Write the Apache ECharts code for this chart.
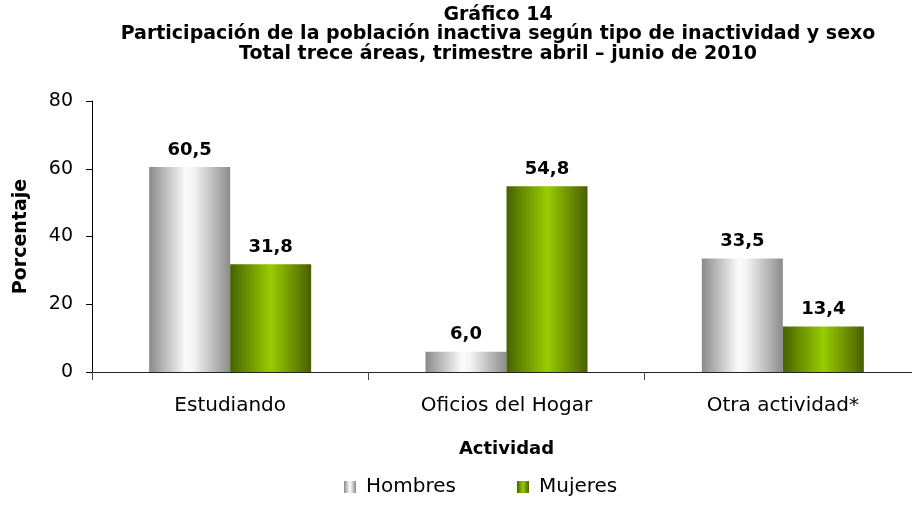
<!DOCTYPE html>
<html><head><meta charset="utf-8">
<script src="https://cdn.jsdelivr.net/npm/echarts@6/dist/echarts.min.js"></script>
<style>html,body{margin:0;padding:0;background:#fff}#c{width:912px;height:505px}</style>
</head><body><div id="c"></div>
<script>
var categories = ['Estudiando', 'Oficios del Hogar', 'Otra actividad*'];
var hombres = [60.5, 6.0, 33.5];
var mujeres = [31.8, 54.8, 13.4];
var seriesNames = ['Hombres', 'Mujeres'];
var yTicks = [0, 20, 40, 60, 80];

var FONT = '"DejaVu Sans", "Liberation Sans", Arial, sans-serif';
function grad(stops){
  return new echarts.graphic.LinearGradient(0,0,1,0, stops.map(function(s){return {offset:s[0], color:s[1]};}));
}
var grayGrad = grad([[0,'#8a8a8a'],[0.45,'#fbfbfb'],[0.55,'#f4f4f4'],[1,'#8c8c8c']]);
var greenGrad = grad([[0,'#476200'],[0.5,'#99cc00'],[1,'#4a5f00']]);
function fmt(p){ return p.value.toFixed(1).replace('.', ','); }

var chart = echarts.init(document.getElementById('c'));
chart.setOption({
  animation: false,
  textStyle: {fontFamily: FONT},
  title: {
    text: 'Gráfico 14\nParticipación de la población inactiva según tipo de inactividad y sexo\nTotal trece áreas, trimestre abril – junio de 2010',
    left: 493, top: 0, textAlign: 'center',
    textStyle: {fontFamily: FONT, fontSize: 19, fontWeight: 'bold', color: '#000', lineHeight: 19.5}
  },
  legend: {
    data: seriesNames, bottom: 3, left: 339, itemWidth: 12, itemHeight: 12, itemGap: 61,
    icon: 'rect',
    textStyle: {fontFamily: FONT, fontSize: 20, color: '#000', padding: [0,0,0,5]}
  },
  grid: {left: 92, width: 829, top: 101, height: 271, containLabel: false, outerBoundsMode: 'none'},
  xAxis: {
    type: 'category', data: categories,
    name: 'Actividad', nameLocation: 'middle', nameGap: 68,
    nameTextStyle: {fontFamily: FONT, fontSize: 18, fontWeight: 'bold', color: '#000'},
    axisLine: {lineStyle: {color: '#222', width: 1}},
    axisTick: {show: true, length: 8, lineStyle: {color: '#444'}},
    axisLabel: {fontFamily: FONT, fontSize: 20, color: '#000', margin: 24}
  },
  yAxis: {
    type: 'value', min: 0, max: 80, interval: 20,
    name: 'Porcentaje', nameLocation: 'middle', nameGap: 61, nameRotate: 90,
    nameTextStyle: {fontFamily: FONT, fontSize: 19, fontWeight: 'bold', color: '#000'},
    axisLine: {show: true, lineStyle: {color: '#000'}},
    axisTick: {show: true, length: 6, lineStyle: {color: '#000'}},
    splitLine: {show: false},
    axisLabel: {fontFamily: FONT, fontSize: 19, color: '#000', margin: 19,
      formatter: function(v){ return yTicks.indexOf(v) >= 0 ? String(v) : ''; }}
  },
  series: [
    {name: seriesNames[0], type: 'bar', data: hombres, barWidth: 81, barGap: '0%',
     itemStyle: {color: grayGrad},
     label: {show: true, position: 'top', distance: 8, formatter: fmt,
       fontFamily: FONT, fontSize: 18, fontWeight: 'bold', color: '#000'}},
    {name: seriesNames[1], type: 'bar', data: mujeres, barWidth: 81, barGap: '0%',
     itemStyle: {color: greenGrad},
     label: {show: true, position: 'top', distance: 8, formatter: fmt,
       fontFamily: FONT, fontSize: 18, fontWeight: 'bold', color: '#000'}}
  ]
});
</script></body></html>
